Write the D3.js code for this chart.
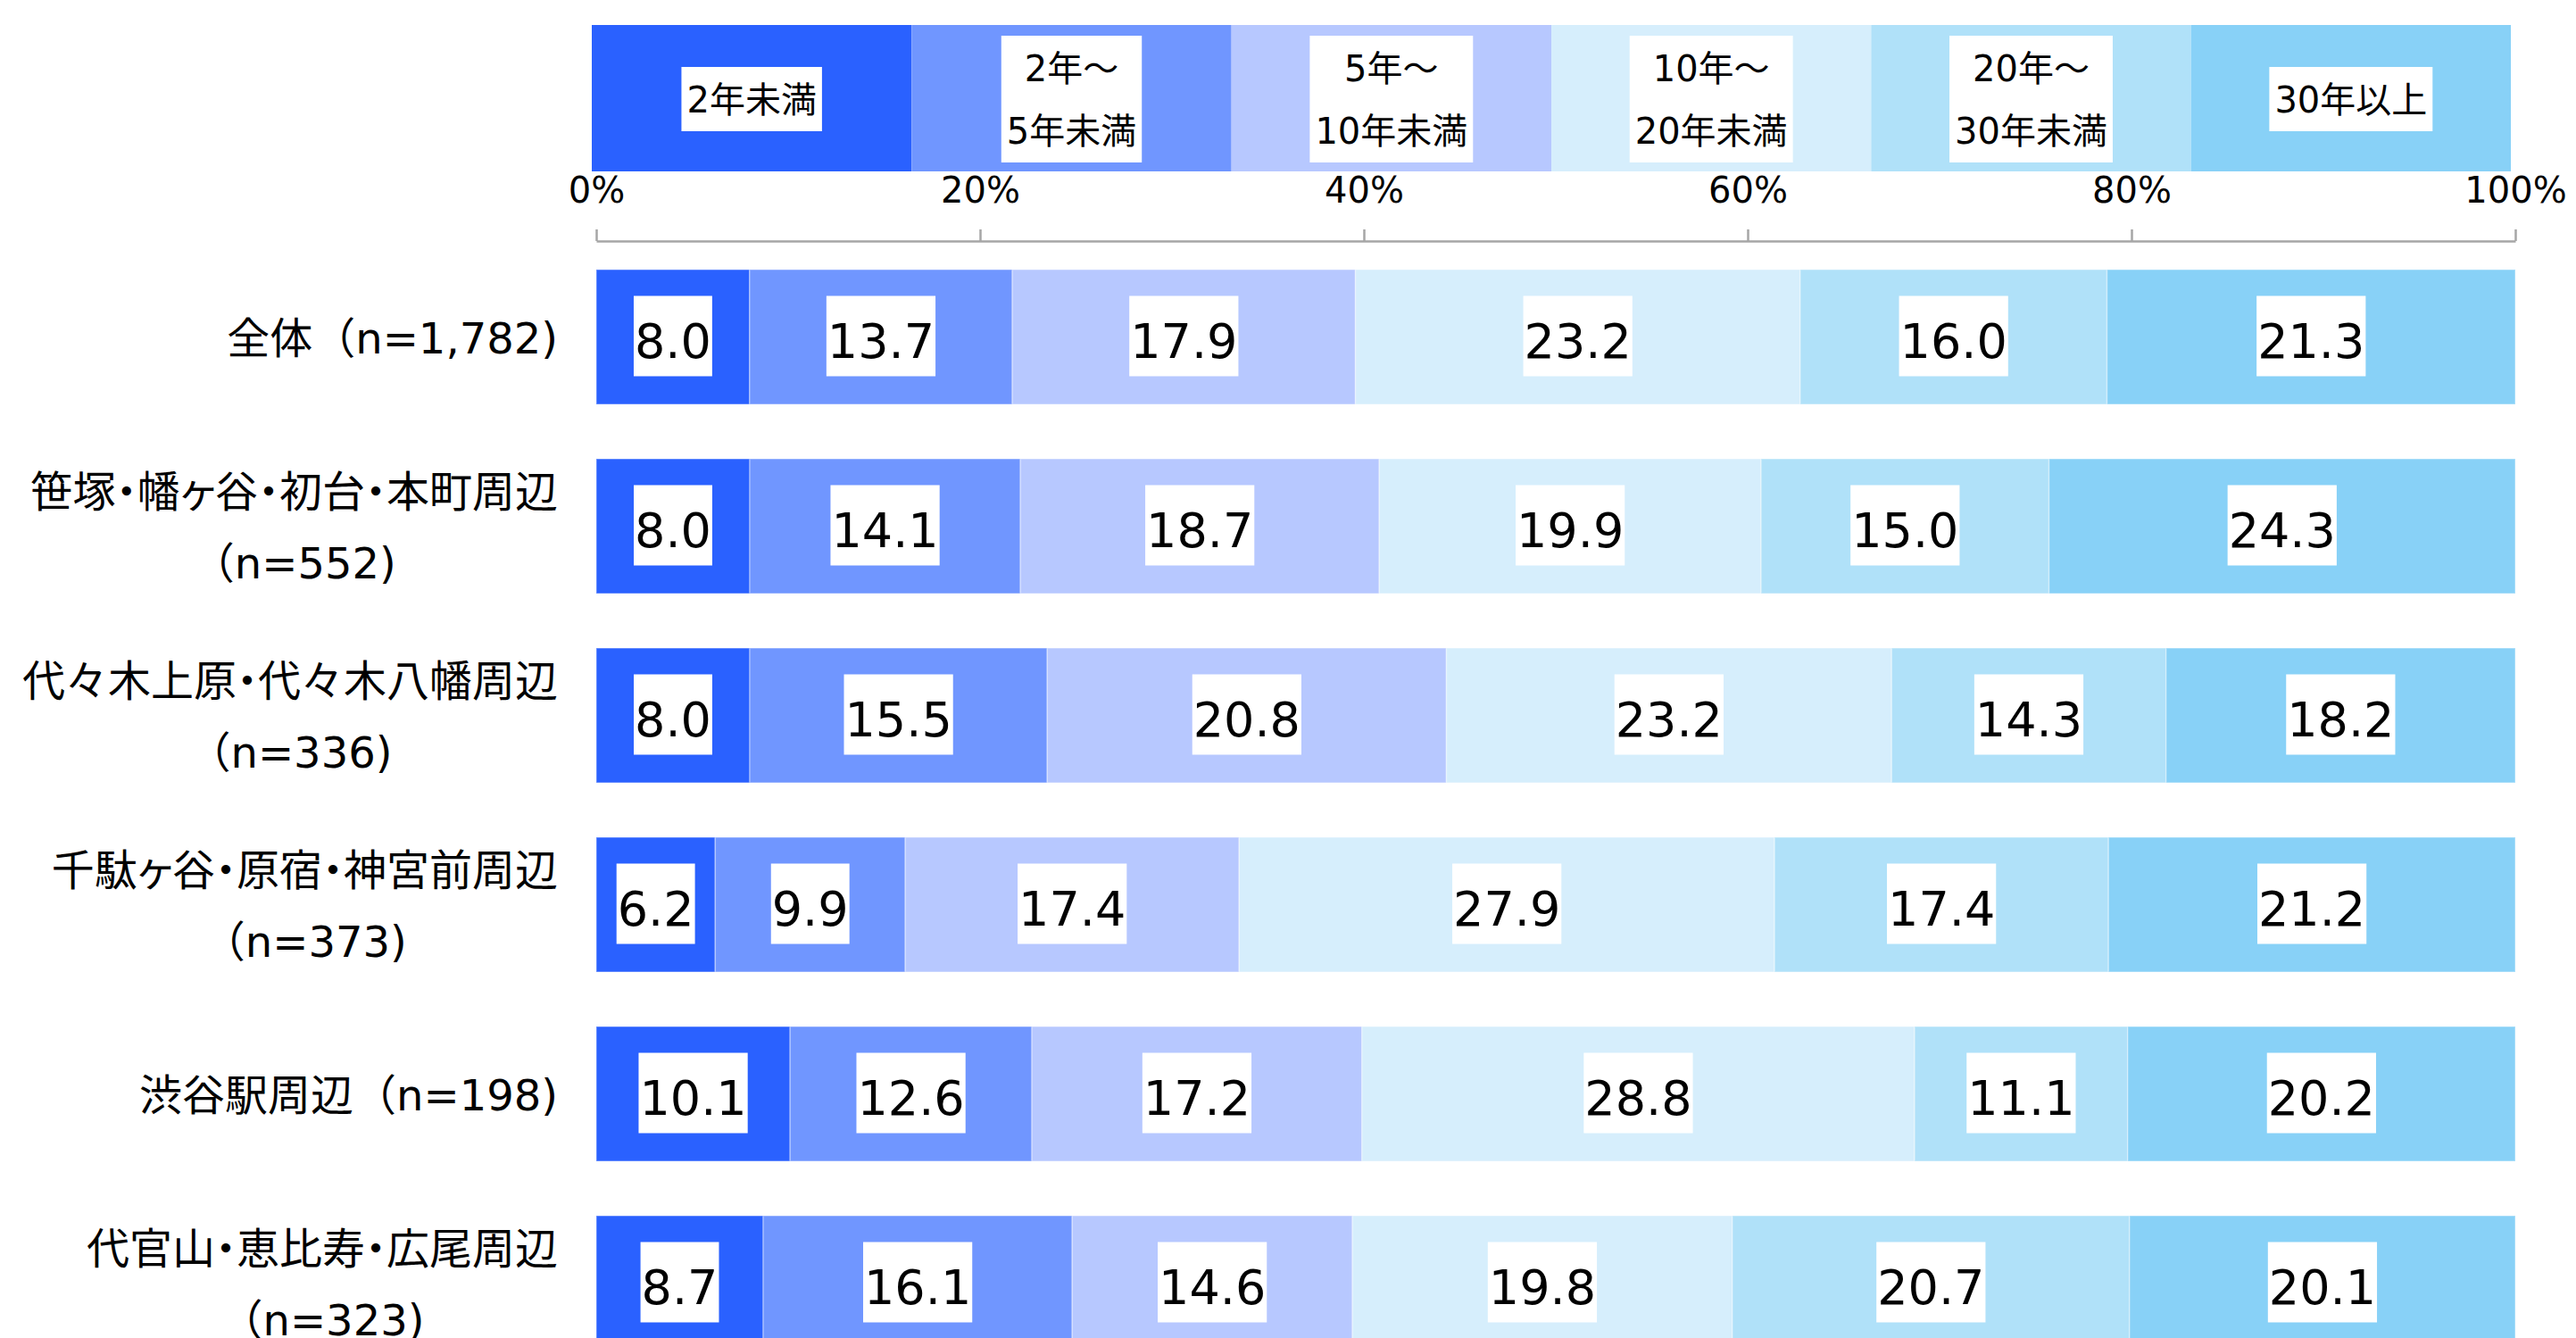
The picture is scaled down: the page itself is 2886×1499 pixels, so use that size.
<!DOCTYPE html>
<html><head><meta charset="utf-8">
<script src="https://cdn.jsdelivr.net/npm/d3@7"></script>
<style>
html,body{margin:0;padding:0;background:#fff;}
text{font-family:"DejaVu Sans","Noto Sans CJK JP",sans-serif;}
tspan.p{font-feature-settings:"palt";}
</style></head>
<body>
<svg id="chart" width="2886" height="1499"></svg>
<script>
// ---- data ----
const series = ["2年未満", "2年～\n5年未満", "5年～\n10年未満", "10年～\n20年未満", "20年～\n30年未満", "30年以上"];
const colors = ["#2A61FF", "#7096FF", "#B7C8FF", "#D6EEFC", "#B0E1F9", "#88D1F7"];
const categories = [
  "全体（n=1,782)",
  "笹塚・幡ヶ谷・初台・本町周辺\n（n=552)",
  "代々木上原・代々木八幡周辺\n（n=336)",
  "千駄ヶ谷・原宿・神宮前周辺\n（n=373)",
  "渋谷駅周辺（n=198)",
  "代官山・恵比寿・広尾周辺\n（n=323)"
];
const v_all      = [8.0, 13.7, 17.9, 23.2, 16.0, 21.3];
const v_sasazuka = [8.0, 14.1, 18.7, 19.9, 15.0, 24.3];
const v_yoyogi   = [8.0, 15.5, 20.8, 23.2, 14.3, 18.2];
const v_sendagaya= [6.2, 9.9, 17.4, 27.9, 17.4, 21.2];
const v_shibuya  = [10.1, 12.6, 17.2, 28.8, 11.1, 20.2];
const v_daikan   = [8.7, 16.1, 14.6, 19.8, 20.7, 20.1];
const values = [v_all, v_sasazuka, v_yoyogi, v_sendagaya, v_shibuya, v_daikan];
const tickValues = [0, 20, 40, 60, 80, 100];

// ---- layout ----
const svg = d3.select("#chart");
const x = d3.scaleLinear().domain([0, 100]).range([668, 2818]);
const y = d3.scaleBand().domain(categories).range([302, 302 + 6 * 212 - 61]).paddingInner(61 / 212).paddingOuter(0);

// legend strip
const lx = d3.scaleBand().domain(series).range([663, 2813]);
const legY0 = 28, legH = 164;
const leg = svg.append("g");
leg.selectAll("rect.seg").data(series).join("rect")
  .attr("x", d => lx(d)).attr("y", legY0).attr("width", lx.bandwidth()).attr("height", legH)
  .attr("fill", (d, i) => colors[i]);
series.forEach((s, i) => {
  const lines = s.split("\n");
  const g = leg.append("g");
  const cx = lx(s) + lx.bandwidth() / 2;
  const cy = legY0 + legH / 2 + 1;
  const lh = 70;
  const box = g.append("rect").attr("fill", "#fff");
  const t = g.selectAll("text").data(lines).join("text")
    .attr("x", cx)
    .attr("y", (d, k) => cy + (k - (lines.length - 1) / 2) * lh + 15)
    .attr("text-anchor", "middle").attr("font-size", 40).attr("fill", "#000")
    .text(d => d);
  let w = 0; t.each(function () { w = Math.max(w, this.getComputedTextLength()); });
  const bh = lines.length * lh + 2;
  box.attr("x", cx - w / 2 - 6).attr("width", w + 12).attr("y", cy - bh / 2).attr("height", bh);
});

// axis
const axis = d3.axisTop(x).tickValues(tickValues).tickSize(13).tickSizeOuter(0).tickPadding(30).tickFormat(d => d + "%");
const ag = svg.append("g").attr("transform", "translate(0,270)").call(axis);
ag.select(".domain").attr("stroke", "#A6A6A6").attr("stroke-width", 2.5);
ag.selectAll(".tick line").attr("stroke", "#A6A6A6").attr("stroke-width", 2.5);
ag.selectAll(".tick text").attr("font-size", 40).attr("fill", "#000")
  .attr("font-family", "'DejaVu Sans','Noto Sans CJK JP',sans-serif");

// split a line into runs: proportional (palt) for ・ and ヶ
function runs(str) {
  const out = [];
  for (const ch of str) {
    const p = (ch === "・" || ch === "ヶ");
    if (out.length && out[out.length - 1].p === p) out[out.length - 1].t += ch;
    else out.push({ t: ch, p });
  }
  return out;
}

// bars
categories.forEach((c, ci) => {
  const vals = values[ci];
  const total = d3.sum(vals);
  let cum = 0;
  const segs = vals.map((v, i) => { const s = { v, i, x0: cum / total * 100, x1: (cum + v) / total * 100 }; cum += v; return s; });
  const g = svg.append("g");
  const yc = y(c) + y.bandwidth() / 2;
  g.selectAll("rect.bar").data(segs).join("rect")
    .attr("x", d => x(d.x0)).attr("width", d => x(d.x1) - x(d.x0))
    .attr("y", y(c)).attr("height", y.bandwidth())
    .attr("fill", d => colors[d.i])
    .attr("stroke", "rgba(255,255,255,0.35)").attr("stroke-width", 1.5);
  segs.forEach(d => {
    const cx = (x(d.x0) + x(d.x1)) / 2;
    const box = g.append("rect").attr("fill", "#fff");
    const t = g.append("text").attr("x", cx).attr("y", yc + 23)
      .attr("text-anchor", "middle").attr("font-size", 54).attr("fill", "#000")
      .text(d.v.toFixed(1));
    const w = t.node().getComputedTextLength();
    box.attr("x", cx - w / 2 - 1).attr("width", w + 2).attr("y", yc - 46).attr("height", 90);
  });
  // category label
  const lines = c.split("\n");
  const lg = svg.append("g");
  const tt = lg.selectAll("text").data(lines).join("text")
    .attr("y", (d, k) => yc + (k - (lines.length - 1) / 2) * 80 + 18)
    .attr("font-size", 48).attr("fill", "#000").attr("text-anchor", "middle");
  tt.each(function (d) {
    d3.select(this).selectAll("tspan").data(runs(d)).join("tspan")
      .attr("class", r => r.p ? "p" : null).text(r => r.t);
  });
  let mw = 0; tt.each(function () { mw = Math.max(mw, this.getComputedTextLength()); });
  tt.attr("x", 625 - mw / 2);
});
</script>
</body></html>
